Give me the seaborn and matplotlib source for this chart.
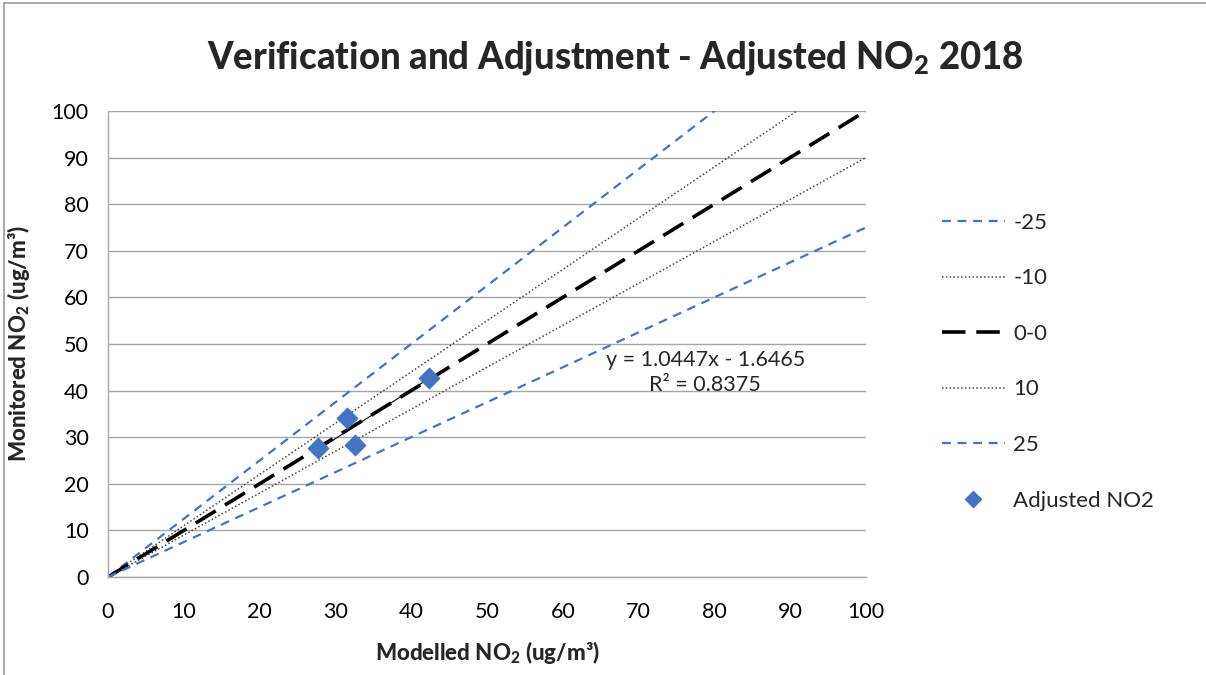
import numpy as np
import pandas as pd
import matplotlib
matplotlib.use('Agg')
import matplotlib.pyplot as plt
from matplotlib.lines import Line2D
import seaborn as sns

# Reference lines (x endpoints and y endpoints)
line_x = [0, 100]
minus25_y = [0, 125]
minus10_y = [0, 110]
zero_y = [0, 100]
plus10_y = [0, 90]
plus25_y = [0, 75]

# Adjusted NO2 points
modelled = [27.7, 31.5, 32.6, 42.3]
monitored = [27.6, 34.1, 28.3, 42.6]

# Trendline from the chart equation
slope = 1.0447
intercept = -1.6465
trend_x = [min(modelled), max(modelled)]
trend_y = [slope * v + intercept for v in trend_x]

sns.set_style('white')
plt.rcParams['font.family'] = ['Lato', 'DejaVu Sans']
plt.rcParams['mathtext.fontset'] = 'custom'
plt.rcParams['mathtext.rm'] = 'Lato'
plt.rcParams['mathtext.bf'] = 'Lato:black'
plt.rcParams['mathtext.it'] = 'Lato:italic'

fig = plt.figure(figsize=(12.06, 6.75), dpi=100)
ax = fig.add_axes([0.0896, 0.1452, 0.6284, 0.6904])

blue = '#4472C4'
olive = '#4a4a3a'

sns.lineplot(x=line_x, y=minus25_y, ax=ax, color=blue, lw=1.6,
             linestyle=(0, (4, 3)))
sns.lineplot(x=line_x, y=minus10_y, ax=ax, color=olive, lw=1.1,
             linestyle=(0, (1, 1.5)))
sns.lineplot(x=line_x, y=zero_y, ax=ax, color='black', lw=2.6,
             linestyle=(0, (6.5, 3)))
sns.lineplot(x=line_x, y=plus10_y, ax=ax, color=olive, lw=1.1,
             linestyle=(0, (1, 1.5)))
sns.lineplot(x=line_x, y=plus25_y, ax=ax, color=blue, lw=1.6,
             linestyle=(0, (4, 3)))
sns.lineplot(x=trend_x, y=trend_y, ax=ax, color='black', lw=0.8)
sns.scatterplot(x=modelled, y=monitored, ax=ax, marker='D', s=110,
                color=blue, edgecolor=blue, zorder=5)

ax.set_xlim(0, 100)
ax.set_ylim(0, 100)
ax.set_xticks(np.arange(0, 101, 10))
ax.set_yticks(np.arange(0, 101, 10))
ax.yaxis.grid(True, color='#a6a6a6', lw=1)
ax.xaxis.grid(False)
for s in ['top', 'right']:
    ax.spines[s].set_visible(False)
for s in ['left', 'bottom']:
    ax.spines[s].set_color('#a6a6a6')
    ax.spines[s].set_linewidth(1)
ax.tick_params(axis='both', which='major', direction='out', length=6,
               color='#a6a6a6', labelsize=15.5, labelcolor='black', pad=8)
ax.tick_params(axis='x', pad=12)

ax.set_xlabel('Modelled NO$_\\mathbf{2}$ (ug/m³)', fontsize=16,
              fontweight='black', labelpad=12)
ax.set_ylabel('Monitored NO$_\\mathbf{2}$ (ug/m³)', fontsize=16,
              fontweight='black', labelpad=14)

fig.suptitle('Verification and Adjustment - Adjusted NO$_\\mathbf{2}$ 2018',
             x=0.510, y=0.942, fontsize=26.3, fontweight='black')

ax.text(78.8, 43.8, 'y = 1.0447x - 1.6465\nR² = 0.8375', fontsize=15.5,
        ha='center', va='center', linespacing=1.3)

handles = [
    Line2D([], [], color=blue, lw=1.6, linestyle=(0, (4, 3))),
    Line2D([], [], color=olive, lw=1.1, linestyle=(0, (1, 1.5))),
    Line2D([], [], color='black', lw=2.6, linestyle=(0, (6.5, 3))),
    Line2D([], [], color=olive, lw=1.1, linestyle=(0, (1, 1.5))),
    Line2D([], [], color=blue, lw=1.6, linestyle=(0, (4, 3))),
    Line2D([], [], color=blue, marker='D', markersize=8, linestyle='None'),
]
labels = ['-25', '-10', '0-0', '10', '25', 'Adjusted NO2']
fig.legend(handles, labels, loc='upper left', bbox_to_anchor=(0.774, 0.698),
           frameon=False, fontsize=16, handlelength=2.8, handletextpad=0.4,
           labelspacing=1.6, borderaxespad=0)

# chart frame edges
fig.add_artist(Line2D([0.0035, 0.0035], [0, 0.996], transform=fig.transFigure,
                      color='#9a9a9a', lw=1.2))
fig.add_artist(Line2D([0.0035, 1], [0.996, 0.996], transform=fig.transFigure,
                      color='#9a9a9a', lw=1.2))

fig.savefig('out.png', dpi=100)
